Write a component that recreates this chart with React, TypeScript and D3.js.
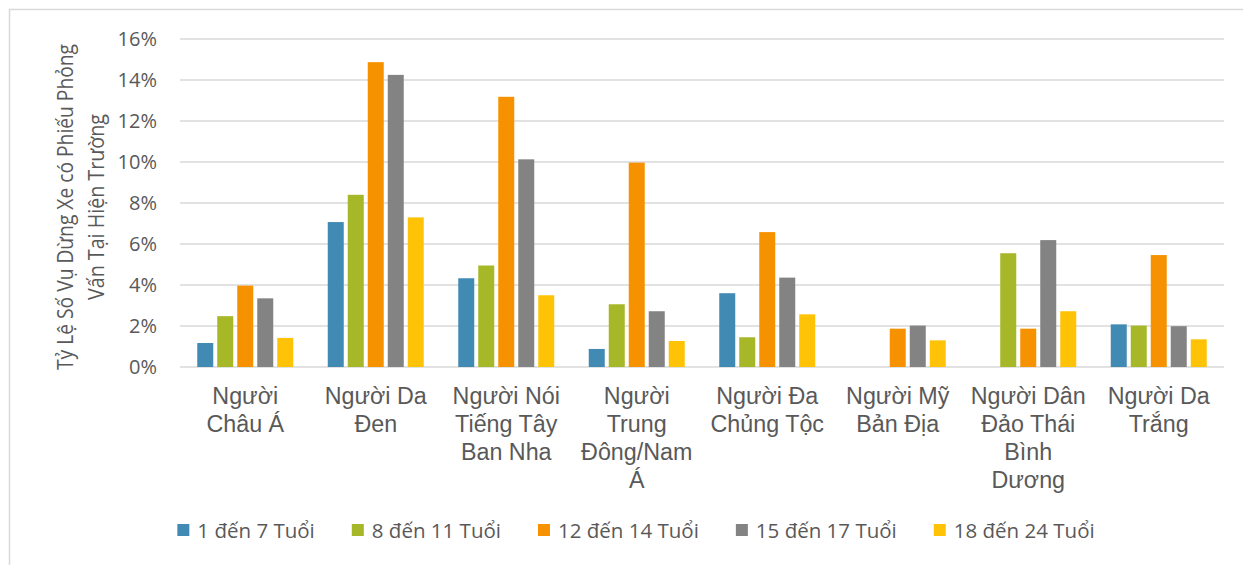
import React, { useEffect, useRef } from "react";
import * as d3 from "d3";

const categories = [
  "Người Châu Á",
  "Người Da Đen",
  "Người Nói Tiếng Tây Ban Nha",
  "Người Trung Đông/Nam Á",
  "Người Đa Chủng Tộc",
  "Người Mỹ Bản Địa",
  "Người Dân Đảo Thái Bình Dương",
  "Người Da Trắng",
];
const categoryLines = [
  ["Người", "Châu Á"],
  ["Người Da", "Đen"],
  ["Người Nói", "Tiếng Tây", "Ban Nha"],
  ["Người", "Trung", "Đông/Nam", "Á"],
  ["Người Đa", "Chủng Tộc"],
  ["Người Mỹ", "Bản Địa"],
  ["Người Dân", "Đảo Thái", "Bình", "Dương"],
  ["Người Da", "Trắng"],
];
const seriesNames = ["1 đến 7 Tuổi", "8 đến 11 Tuổi", "12 đến 14 Tuổi", "15 đến 17 Tuổi", "18 đến 24 Tuổi"];
const seriesColors = ["#418AB3", "#A6B727", "#F69200", "#838383", "#FEC306"];
const age1to7: (number | null)[] = [1.17, 7.07, 4.33, 0.88, 3.6, null, null, 2.08];
const age8to11: (number | null)[] = [2.48, 8.4, 4.95, 3.06, 1.45, null, 5.55, 2.02];
const age12to14: (number | null)[] = [3.97, 14.87, 13.18, 9.97, 6.58, 1.87, 1.87, 5.46];
const age15to17: (number | null)[] = [3.35, 14.25, 10.13, 2.72, 4.36, 2.02, 6.19, 1.99];
const age18to24: (number | null)[] = [1.42, 7.3, 3.5, 1.27, 2.57, 1.3, 2.72, 1.35];
const yTicks = [0, 2, 4, 6, 8, 10, 12, 14, 16];
const yTitleLines = ["Tỷ Lệ Số Vụ Dừng Xe có Phiếu Phỏng", "Vấn Tại Hiện Trường"];

const W = 1243;
const H = 565;

export default function App() {
  const ref = useRef<SVGSVGElement>(null);
  useEffect(() => {
    const svg = d3.select(ref.current);
    svg.selectAll("*").remove();
    const series = [age1to7, age8to11, age12to14, age15to17, age18to24];
    const left = 180, right = 1224, top = 39, bottom = 367;
    const textColor = "#595959";
    const calibriLike = "'Open Sans', 'Noto Sans', sans-serif";

    svg.append("rect").attr("x", 0).attr("y", 0).attr("width", W).attr("height", H).attr("fill", "#fff");
    svg.append("rect").attr("x", 9.5).attr("y", 9.5).attr("width", 1400).attr("height", 700)
      .attr("fill", "none").attr("stroke", "#d9d9d9").attr("stroke-width", 1.5);

    const x0 = d3.scaleBand<string>().domain(categories).range([left, right]).padding(0);
    const x1 = d3.scaleBand<string>().domain(seriesNames).range([0, x0.bandwidth()])
      .paddingInner(0.2).paddingOuter(0.8625);
    const y = d3.scaleLinear().domain([0, 16]).range([bottom, top]);

    const grid = svg.append("g");
    yTicks.forEach((t) => {
      grid.append("line").attr("x1", left).attr("x2", right).attr("y1", y(t)).attr("y2", y(t))
        .attr("stroke", "#d9d9d9").attr("stroke-width", 1.5);
      svg.append("text").attr("x", 157).attr("y", y(t)).attr("dy", "0.36em")
        .attr("text-anchor", "end").attr("font-family", calibriLike).attr("font-size", 20)
        .attr("fill", textColor).text(`${t}%`);
    });

    const bars = svg.append("g");
    categories.forEach((c, ci) => {
      series.forEach((s, si) => {
        const v = s[ci];
        if (v == null) return;
        bars.append("rect")
          .attr("x", (x0(c) as number) + (x1(seriesNames[si]) as number))
          .attr("width", x1.bandwidth())
          .attr("y", y(v))
          .attr("height", y(0) - y(v))
          .attr("fill", seriesColors[si]);
      });
    });

    categories.forEach((c, ci) => {
      const cx = (x0(c) as number) + x0.bandwidth() / 2;
      const t = svg.append("text").attr("text-anchor", "middle")
        .attr("font-family", "'Liberation Sans', Arial, sans-serif").attr("font-size", 23.3)
        .attr("fill", textColor);
      categoryLines[ci].forEach((ln, li) => {
        t.append("tspan").attr("x", cx).attr("y", 404 + li * 28).text(ln);
      });
    });

    const titleLens = [326, 186];
    const yt = svg.append("text").attr("transform", `translate(0,207) rotate(-90)`)
      .attr("text-anchor", "middle").attr("font-family", calibriLike).attr("font-size", 21.5)
      .attr("fill", textColor);
    yTitleLines.forEach((ln, i) => {
      yt.append("tspan").attr("x", 0).attr("y", 73 + i * 31)
        .attr("textLength", titleLens[i]).attr("lengthAdjust", "spacingAndGlyphs").text(ln);
    });

    // legend
    const lg = svg.append("g");
    const items: { g: any; w: number }[] = [];
    seriesNames.forEach((n, i) => {
      const g = lg.append("g");
      g.append("rect").attr("x", 0).attr("y", -14).attr("width", 12).attr("height", 12).attr("fill", seriesColors[i]);
      const tx = g.append("text").attr("x", 20).attr("y", 0).attr("font-family", calibriLike)
        .attr("font-size", 20.5).attr("fill", textColor).text(n);
      const w = 20 + (tx.node() as SVGTextElement).getComputedTextLength();
      items.push({ g, w });
    });
    const gap = 37;
    const total = items.reduce((a, b) => a + b.w, 0) + gap * (items.length - 1);
    let cur = 636 - total / 2;
    items.forEach((it) => {
      it.g.attr("transform", `translate(${cur},538)`);
      cur += it.w + gap;
    });
  }, []);
  return (
    <svg ref={ref} width={W} height={H} style={{ position: "absolute", left: 0, top: 0 }} />
  );
}
